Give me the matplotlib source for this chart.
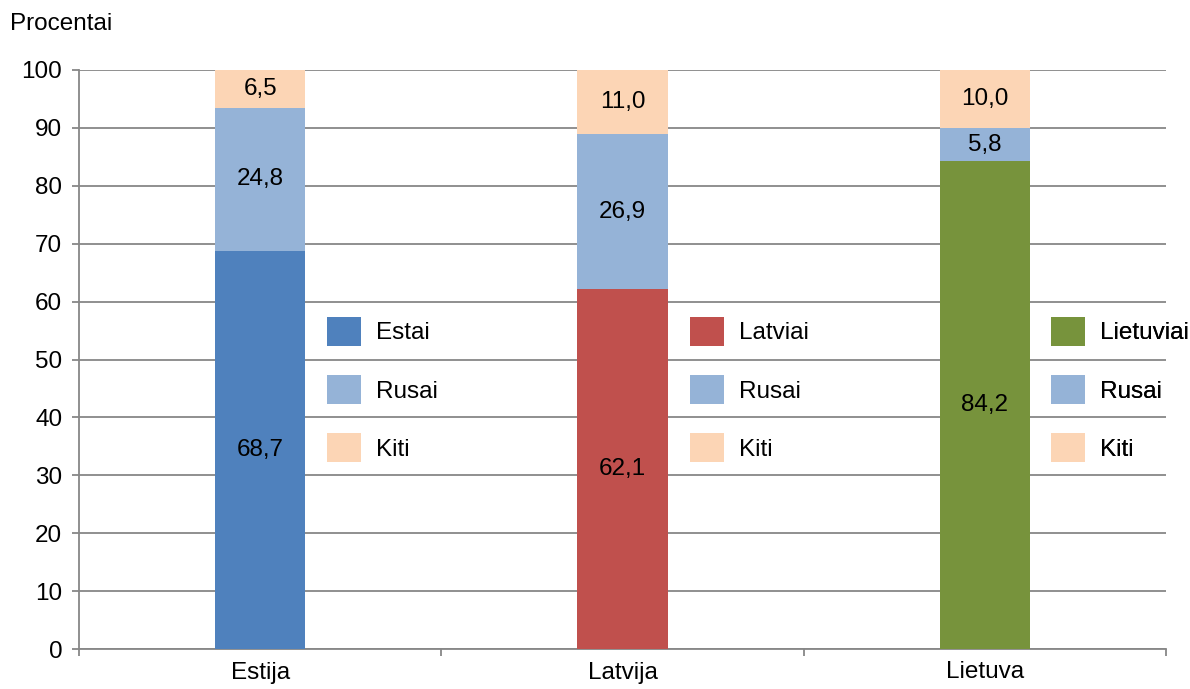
import matplotlib
matplotlib.use("Agg")
import matplotlib.pyplot as plt
from matplotlib.patches import Patch

plt.rcParams["font.family"] = ["Liberation Sans", "DejaVu Sans"]

salys = ["Estija", "Latvija", "Lietuva"]
pagrindine_tautybe = ["Estai", "Latviai", "Lietuviai"]
pagrindine = [68.7, 62.1, 84.2]
rusai = [24.8, 26.9, 5.8]
kiti = [6.5, 11.0, 10.0]

spalvos_pagr = ["#4F81BD", "#C0504D", "#77933C"]
spalva_rusai = "#95B3D7"
spalva_kiti = "#FCD5B5"
pilka = "#878787"
fs = 17.5

fig = plt.figure(figsize=(11.9, 6.89), dpi=100)
ax = fig.add_axes([79 / 1190, 1 - 649 / 689, 1087 / 1190, 579 / 689])

x = [i + 0.5 for i in range(len(salys))]
plotis = 0.25

ax.bar(x, pagrindine, width=plotis, color=spalvos_pagr, zorder=3)
apacia2 = pagrindine
ax.bar(x, rusai, width=plotis, bottom=apacia2, color=spalva_rusai, zorder=3)
apacia3 = [a + b for a, b in zip(pagrindine, rusai)]
ax.bar(x, kiti, width=plotis, bottom=apacia3, color=spalva_kiti, zorder=3)

def fmt(v):
    return f"{v:.1f}".replace(".", ",")

for i in range(len(salys)):
    ax.text(x[i], pagrindine[i] / 2, fmt(pagrindine[i]), ha="center", va="center", fontsize=fs, zorder=4)
    ax.text(x[i], apacia2[i] + rusai[i] / 2, fmt(rusai[i]), ha="center", va="center", fontsize=fs, zorder=4)
    ax.text(x[i], apacia3[i] + kiti[i] / 2, fmt(kiti[i]), ha="center", va="center", fontsize=fs, zorder=4)

ax.set_xlim(0, 3)
ax.set_ylim(0, 100)
ax.set_yticks(range(0, 101, 10))
ax.yaxis.grid(True, color=pilka, linewidth=1.3, zorder=0)
ax.set_axisbelow(True)

ax.set_xticks([0, 1, 2, 3])
ax.set_xticklabels([])
ax.set_xticks(x, minor=True)
ax.set_xticklabels(salys, minor=True, fontsize=fs)
ax.tick_params(axis="x", which="major", length=5, width=1.3, color=pilka, direction="out")
ax.tick_params(axis="x", which="minor", length=0, pad=9)
ax.tick_params(axis="y", length=5, width=1.3, color=pilka, labelsize=fs, pad=7)

for s in ["top", "right"]:
    ax.spines[s].set_visible(False)
for s in ["left", "bottom"]:
    ax.spines[s].set_color(pilka)
    ax.spines[s].set_linewidth(1.3)

# legendos prie kiekvieno stulpelio
legendu_x = [(327 - 79) / 1087, (690 - 79) / 1087, (1051 - 79) / 1087]
for i in range(len(salys)):
    rankenos = [
        Patch(facecolor=spalvos_pagr[i], label=pagrindine_tautybe[i]),
        Patch(facecolor=spalva_rusai, label="Rusai"),
        Patch(facecolor=spalva_kiti, label="Kiti"),
    ]
    leg = ax.legend(handles=rankenos, loc="upper left",
                    bbox_to_anchor=(legendu_x[i], (649 - 317) / 579),
                    frameon=False, fontsize=fs, borderpad=0, borderaxespad=0,
                    handlelength=1.4, handleheight=1.45,
                    handletextpad=0.62, labelspacing=1.2)
    ax.add_artist(leg)

fig.text(10 / 1190, 1 - 24 / 689, "Procentai", fontsize=fs, va="center", ha="left")

fig.savefig("out.png", dpi=100)
